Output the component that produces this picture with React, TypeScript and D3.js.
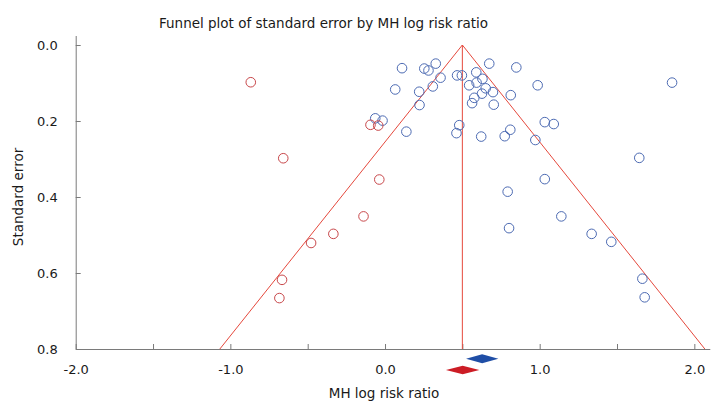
import React, { useRef, useEffect } from 'react';
import * as d3 from 'd3';

// observed studies: [log risk ratio, standard error]
const observedStudies: [number, number][] = [
  [0.110, 0.061], [0.254, 0.062], [0.281, 0.067], [0.328, 0.049], [0.359, 0.086],
  [0.066, 0.117], [0.221, 0.123], [0.309, 0.109], [0.223, 0.158], [-0.063, 0.193],
  [-0.016, 0.199], [0.138, 0.228], [0.466, 0.080], [0.497, 0.080], [0.674, 0.049],
  [0.849, 0.059], [0.590, 0.072], [0.630, 0.089], [0.544, 0.106], [0.592, 0.099],
  [0.651, 0.114], [0.698, 0.124], [0.627, 0.128], [0.577, 0.139], [0.563, 0.153],
  [0.703, 0.157], [0.813, 0.132], [0.987, 0.106], [1.856, 0.099], [0.480, 0.211],
  [0.462, 0.232], [0.622, 0.241], [0.810, 0.223], [0.774, 0.240], [0.972, 0.250],
  [1.033, 0.203], [1.091, 0.208], [1.644, 0.297], [1.033, 0.353], [0.793, 0.386],
  [0.802, 0.482], [1.140, 0.451], [1.336, 0.497], [1.463, 0.518], [1.664, 0.615],
  [1.679, 0.664],
];

// imputed studies (trim and fill)
const imputedStudies: [number, number][] = [
  [-0.868, 0.098], [-0.658, 0.298], [-0.094, 0.210], [-0.044, 0.212], [-0.037, 0.354],
  [-0.139, 0.451], [-0.334, 0.497], [-0.478, 0.521], [-0.666, 0.618], [-0.683, 0.666],
];

// pooled estimates: [lower, point, upper]
const observedPooled = [0.524, 0.628, 0.733];
const adjustedPooled = [0.394, 0.502, 0.610];

const funnelCenter = 0.5;
const maxSE = 0.8;

const xTicks = [-2, -1.5, -1, -0.5, 0, 0.5, 1, 1.5, 2];
const xLabelTicks = [-2, -1, 0, 1, 2];
const yTicks = [0, 0.2, 0.4, 0.6, 0.8];

const App = () => {
  const svgRef = useRef<SVGSVGElement>(null);

  useEffect(() => {
    const svg = d3.select(svgRef.current);
    svg.selectAll('*').remove();

    const font = 'DejaVu Sans, Verdana, sans-serif';
    const axisColor = '#7a7a7a';

    // Scales
    const x = d3.scaleLinear().domain([-2, 2.1]).range([75.7, 709.8]);
    const y = d3.scaleLinear().domain([-0.025, maxSE]).range([35.5, 349]);

    // X axis
    const xAxis = svg.append('g')
      .attr('transform', `translate(0, ${y(maxSE)})`)
      .call(d3.axisBottom(x)
        .tickValues(xTicks)
        .tickSizeInner(-5)
        .tickSizeOuter(0)
        .tickPadding(16)
        .tickFormat(d => (xLabelTicks.includes(+d) ? (+d).toFixed(1) : '')));

    // Y axis
    const yAxis = svg.append('g')
      .attr('transform', `translate(${x(-2)}, 0)`)
      .call(d3.axisLeft(y)
        .tickValues(yTicks)
        .tickSizeInner(-5)
        .tickSizeOuter(0)
        .tickPadding(18)
        .tickFormat(d => (+d).toFixed(1)));

    [xAxis, yAxis].forEach(g => {
      g.select('.domain').attr('stroke', axisColor);
      g.selectAll('.tick line').attr('stroke', axisColor);
      g.selectAll('.tick text')
        .attr('font-family', font)
        .attr('font-size', 13)
        .attr('fill', '#1a1a1a');
    });
    yAxis.selectAll('.tick text').attr('dy', '0.36em');

    // Funnel
    const funnel = [
      [funnelCenter - 1.96 * maxSE, maxSE],
      [funnelCenter, 0],
      [funnelCenter + 1.96 * maxSE, maxSE],
    ];
    const line = d3.line<number[]>().x(d => x(d[0])).y(d => y(d[1]));
    svg.append('path')
      .datum(funnel)
      .attr('fill', 'none')
      .attr('stroke', '#e5483c')
      .attr('stroke-width', 1)
      .attr('d', line);
    svg.append('path')
      .datum([[funnelCenter, 0], [funnelCenter, maxSE]])
      .attr('fill', 'none')
      .attr('stroke', '#e5483c')
      .attr('stroke-width', 1)
      .attr('d', line);

    // Studies
    svg.append('g')
      .selectAll('circle')
      .data(observedStudies)
      .join('circle')
      .attr('cx', d => x(d[0]))
      .attr('cy', d => y(d[1]))
      .attr('r', 4.8)
      .attr('fill', 'none')
      .attr('stroke', '#4d6bb3')
      .attr('stroke-width', 1);

    svg.append('g')
      .selectAll('circle')
      .data(imputedStudies)
      .join('circle')
      .attr('cx', d => x(d[0]))
      .attr('cy', d => y(d[1]))
      .attr('r', 4.8)
      .attr('fill', 'none')
      .attr('stroke', '#c8484b')
      .attr('stroke-width', 1);

    // Pooled diamonds below the axis
    const diamond = (p: number[], cy: number, h: number) =>
      `M${x(p[0])},${cy}L${x(p[1])},${cy - h}L${x(p[2])},${cy}L${x(p[1])},${cy + h}Z`;
    svg.append('path')
      .attr('d', diamond(observedPooled, 358.8, 4.5))
      .attr('fill', '#1f4ea6');
    svg.append('path')
      .attr('d', diamond(adjustedPooled, 370, 4.3))
      .attr('fill', '#cc1c25');

    // Titles
    svg.append('text')
      .attr('x', 159)
      .attr('y', 28.3)
      .attr('font-family', font)
      .attr('font-size', 13.5)
      .attr('fill', '#1a1a1a')
      .text('Funnel plot of standard error by MH log risk ratio');

    svg.append('text')
      .attr('x', 384)
      .attr('y', 398)
      .attr('text-anchor', 'middle')
      .attr('font-family', font)
      .attr('font-size', 13.5)
      .attr('fill', '#1a1a1a')
      .text('MH log risk ratio');

    svg.append('text')
      .attr('transform', `translate(22.5, ${(y(0) + y(maxSE)) / 2}) rotate(-90)`)
      .attr('text-anchor', 'middle')
      .attr('font-family', font)
      .attr('font-size', 13.5)
      .attr('fill', '#1a1a1a')
      .text('Standard error');
  }, []);

  return (
    <svg
      ref={svgRef}
      width={724}
      height={416}
      style={{ position: 'absolute', left: 0, top: 0, background: '#fff' }}
    />
  );
};

export default App;
